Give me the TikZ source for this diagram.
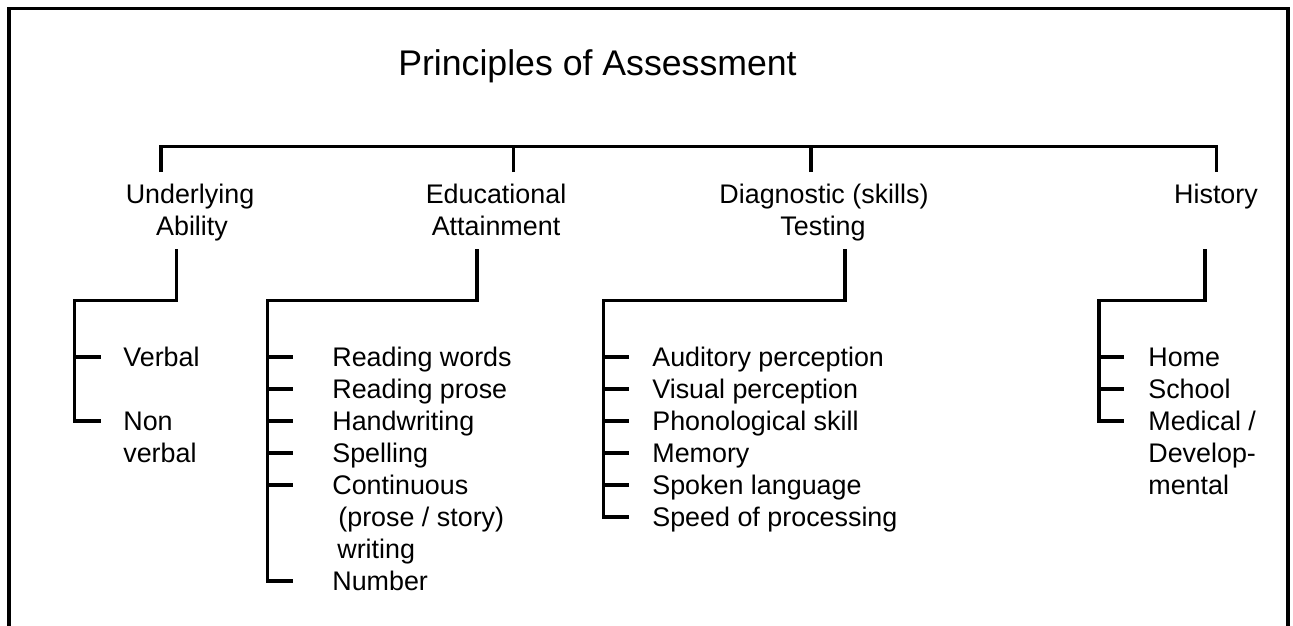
\documentclass[tikz,border=0pt]{standalone}
\usepackage{fontspec}
\setmainfont{Liberation Sans}

\tikzset{
  branch/.style={line width=1.9pt},
  head/.style={anchor=base, inner sep=0pt, font=\fontsize{15.3}{18}\selectfont},
  leaf/.style={anchor=west, inner sep=0pt, text height=10.7pt, text depth=0pt,
               font=\fontsize{15.3}{18}\selectfont}
}

\begin{document}
\begin{tikzpicture}[x=0.02cm, y=-0.02cm]
    \useasboundingbox (0,0) rectangle (1293,625);
    % frame, open at the bottom
    \draw[branch] (9,627) |- (1288,8.5) -- (1288,627);

    \node[anchor=base, font=\fontsize{20.3}{24}\selectfont] (title) at (597.5,75.5) {Principles of Assessment};

    % first level
    \node[head] (ua1) at (190,203) {Underlying};
    \node[head] (ua2) at (192,235) {Ability};
    \node[head] (ea1) at (496,203) {Educational};
    \node[head] (ea2) at (496,235) {Attainment};
    \node[head] (dt1) at (824,203) {Diagnostic (skills)};
    \node[head] (dt2) at (823,235) {Testing};
    \node[head] (hi1) at (1216,203) {History};

    \coordinate (bar) at (0,146.5);
    \coordinate (t1) at (161,172);
    \coordinate (t2) at (513.5,172);
    \coordinate (t3) at (811,172);
    \coordinate (t4) at (1216.5,172);
    \draw[branch] (t1) -- (t1 |- bar) -- (t4 |- bar) -- (t4);
    \draw[branch] (t2) -- (t2 |- bar);
    \draw[branch] (t3) -- (t3 |- bar);

    % Underlying Ability
    \node[leaf] (v1) at (123,357) {Verbal};
    \node[leaf] (v2) at (123,421) {Non};
    \node[leaf] (v2b) at (123,453) {verbal};
    \coordinate (uaT) at (176.5,249);
    \coordinate (uaS) at (74.5,300.5);
    \draw[branch, shorten >=0.446cm] (uaT) |- (uaS) |- (v2.west);
    \draw[branch, shorten >=0.446cm] (uaS |- v1.west) -- (v1.west);

    % Educational Attainment
    \node[leaf] (e1) at (332,357) {Reading words};
    \node[leaf] (e2) at (332,389) {Reading prose};
    \node[leaf] (e3) at (332,421) {Handwriting};
    \node[leaf] (e4) at (332,453) {Spelling};
    \node[leaf] (e5) at (332,485) {Continuous};
    \node[leaf] (e5b) at (338,517) {(prose / story)};
    \node[leaf] (e5c) at (337,549) {writing};
    \node[leaf] (e6) at (332,581) {Number};
    \coordinate (eaT) at (477,249);
    \coordinate (eaS) at (267.5,300.5);
    \draw[branch, shorten >=0.786cm] (eaT) |- (eaS) |- (e6.west);
    \foreach \n in {e1,e2,e3,e4,e5}
        \draw[branch, shorten >=0.786cm] (eaS |- \n.west) -- (\n.west);

    % Diagnostic (skills) Testing
    \node[leaf] (d1) at (652,357) {Auditory perception};
    \node[leaf] (d2) at (652,389) {Visual perception};
    \node[leaf] (d3) at (652,421) {Phonological skill};
    \node[leaf] (d4) at (652,453) {Memory};
    \node[leaf] (d5) at (652,485) {Spoken language};
    \node[leaf] (d6) at (652,517) {Speed of processing};
    \coordinate (dtT) at (845,249);
    \coordinate (dtS) at (603.5,300.5);
    \draw[branch, shorten >=0.46cm] (dtT) |- (dtS) |- (d6.west);
    \foreach \n in {d1,d2,d3,d4,d5}
        \draw[branch, shorten >=0.46cm] (dtS |- \n.west) -- (\n.west);

    % History
    \node[leaf] (h1) at (1148,357) {Home};
    \node[leaf] (h2) at (1148,389) {School};
    \node[leaf] (h3) at (1148,421) {Medical /};
    \node[leaf] (h3b) at (1148,453) {Develop-};
    \node[leaf] (h3c) at (1148,485) {mental};
    \coordinate (hiT) at (1205,249);
    \coordinate (hiS) at (1099,300.5);
    \draw[branch, shorten >=0.48cm] (hiT) |- (hiS) |- (h3.west);
    \foreach \n in {h1,h2}
        \draw[branch, shorten >=0.48cm] (hiS |- \n.west) -- (\n.west);
\end{tikzpicture}
\end{document}
